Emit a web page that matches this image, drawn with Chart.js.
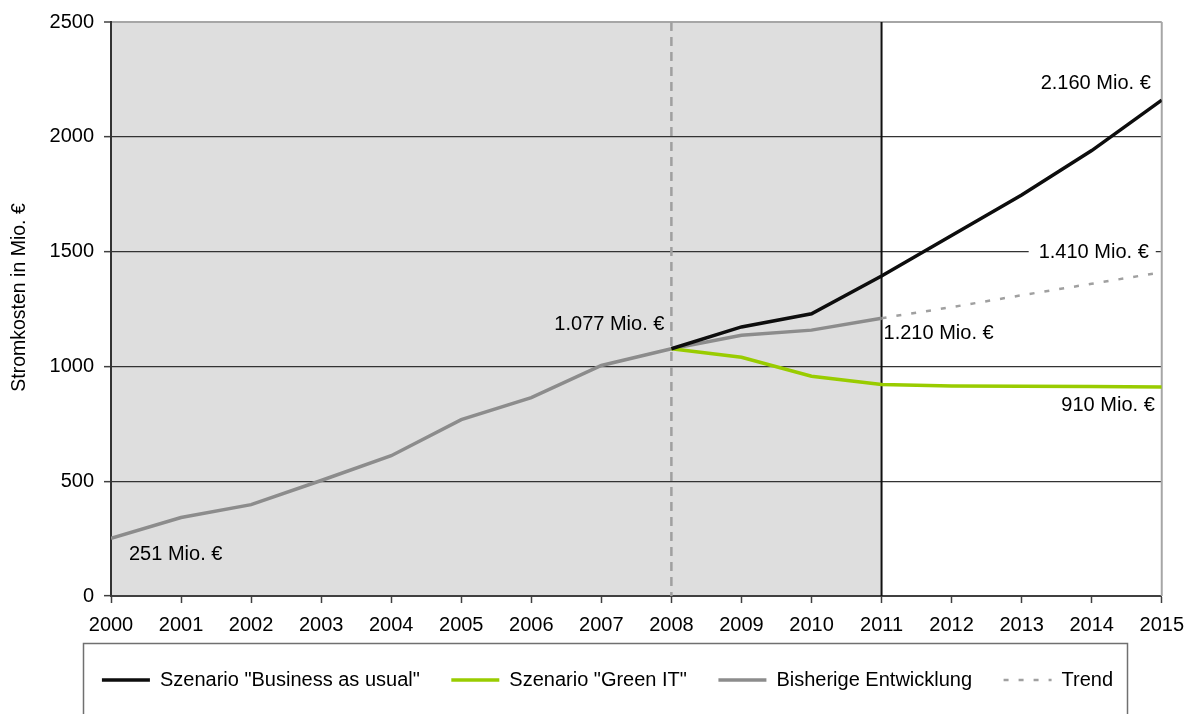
<!DOCTYPE html>
<html>
<head>
<meta charset="utf-8">
<script src="https://cdn.jsdelivr.net/npm/chart.js@4/dist/chart.umd.min.js"></script>
<style>
  html, body { margin: 0; padding: 0; background: #fff; }
  #wrap { width: 1194px; height: 714px; position: relative; }
</style>
</head>
<body>
<div id="wrap"><canvas id="c" width="1194" height="714"></canvas></div>
<script>
// ---- data ----
const histYears = [2000, 2001, 2002, 2003, 2004, 2005, 2006, 2007, 2008, 2009, 2010, 2011];
const histValues = [251, 342, 398, 503, 611, 768, 864, 1004, 1077, 1136, 1158, 1210];
const scenYears = [2008, 2009, 2010, 2011, 2012, 2013, 2014, 2015];
const bauValues = [1077, 1172, 1229, 1394, 1570, 1747, 1940, 2160];
const greenValues = [1077, 1040, 957, 921, 915, 914, 913, 910];
const trendYears = [2011, 2012, 2013, 2014, 2015];
const trendValues = [1210, 1258, 1310, 1360, 1410];
const seriesNames = ['Szenario "Business as usual"', 'Szenario "Green IT"', 'Bisherige Entwicklung', 'Trend'];
const yTitle = 'Stromkosten in Mio. €';
const annotations = [
  { x: 2000, y: 251, text: '251 Mio. €' },
  { x: 2008, y: 1077, text: '1.077 Mio. €' },
  { x: 2015, y: 2160, text: '2.160 Mio. €' },
  { x: 2015, y: 1410, text: '1.410 Mio. €' },
  { x: 2011, y: 1210, text: '1.210 Mio. €' },
  { x: 2015, y: 910, text: '910 Mio. €' }
];
const shadeFrom = 2000, shadeTo = 2011, dashedYear = 2008, solidYear = 2011;

// ---- styling of annotations (offsets, alignment) ----
const annStyle = [
  { dx: 18, dy: 16, align: 'left' },
  { dx: -7, dy: -24, align: 'right' },
  { dx: -11, dy: -17, align: 'right' },
  { dx: -13, dy: -20, align: 'right', box: true },
  { dx: 2, dy: 15, align: 'left' },
  { dx: -7, dy: 18, align: 'right' }
];

const pts = (xs, ys) => xs.map((x, i) => ({ x: x, y: ys[i] }));
const FONT = 'Arial, "Liberation Sans", sans-serif';

const decor = {
  id: 'decor',
  afterLayout(chart) {
    const lg = chart.legend;
    if (lg) { lg.left += 26; lg.right += 26; }
  },
  beforeDraw(chart) {
    const { ctx, chartArea: a, scales: { x } } = chart;
    ctx.save();
    ctx.fillStyle = '#fff';
    ctx.fillRect(0, 0, chart.width, chart.height);
    ctx.fillStyle = '#dedede';
    const x0 = x.getPixelForValue(shadeFrom), x1 = x.getPixelForValue(shadeTo);
    ctx.fillRect(x0, a.top, x1 - x0, a.bottom - a.top);
    ctx.restore();
  },
  beforeDatasetsDraw(chart) {
    const { ctx, chartArea: a, scales: { x } } = chart;
    ctx.save();
    // right border
    ctx.strokeStyle = '#a6a6a6';
    ctx.lineWidth = 2;
    ctx.beginPath();
    ctx.moveTo(a.right, a.top); ctx.lineTo(a.right, a.bottom);
    ctx.stroke();
    // dashed 2008
    const xd = x.getPixelForValue(dashedYear);
    ctx.strokeStyle = '#a0a0a0';
    ctx.lineWidth = 2.5;
    ctx.setLineDash([9, 6]);
    ctx.beginPath();
    ctx.moveTo(xd, a.top); ctx.lineTo(xd, a.bottom);
    ctx.stroke();
    ctx.setLineDash([]);
    // solid 2011
    const xs = x.getPixelForValue(solidYear);
    ctx.strokeStyle = '#111';
    ctx.lineWidth = 2;
    ctx.beginPath();
    ctx.moveTo(xs, a.top); ctx.lineTo(xs, a.bottom);
    ctx.stroke();
    ctx.restore();
  },
  afterDatasetsDraw(chart) {
    const { ctx, chartArea: a, scales: { x, y } } = chart;
    ctx.save();
    ctx.font = '20px ' + FONT;
    ctx.textBaseline = 'middle';
    annotations.forEach((an, i) => {
      const s = annStyle[i];
      const px = x.getPixelForValue(an.x) + s.dx;
      const py = y.getPixelForValue(an.y) + s.dy;
      ctx.textAlign = s.align;
      const w = ctx.measureText(an.text).width;
      if (s.box) {
        ctx.fillStyle = '#fff';
        const left = s.align === 'right' ? px - w : px;
        ctx.fillRect(left - 10, py - 11, w + 17, 22);
      }
      ctx.fillStyle = '#000';
      ctx.fillText(an.text, px, py);
    });
    // y axis title
    ctx.translate(20, (a.top + a.bottom) / 2 - 11.5);
    ctx.rotate(-Math.PI / 2);
    ctx.font = '19.5px ' + FONT;
    ctx.textAlign = 'center';
    ctx.fillStyle = '#000';
    ctx.fillText(yTitle, 0, 0);
    ctx.restore();
  },
  afterDraw(chart) {
    const { ctx } = chart;
    ctx.save();
    ctx.strokeStyle = '#707070';
    ctx.lineWidth = 1.5;
    ctx.strokeRect(83.5, 643.5, 1044, 80);
    ctx.restore();
  }
};

new Chart(document.getElementById('c'), {
  type: 'line',
  data: {
    datasets: [
      { label: seriesNames[0], data: pts(scenYears, bauValues), borderColor: '#0d0d0d', borderWidth: 3.5 },
      { label: seriesNames[1], data: pts(scenYears, greenValues), borderColor: '#99cc00', borderWidth: 3.5 },
      { label: seriesNames[2], data: pts(histYears, histValues), borderColor: '#8c8c8c', borderWidth: 3.5 },
      { label: seriesNames[3], data: pts(trendYears, trendValues), borderColor: '#a0a0a0', borderWidth: 2.5, borderDash: [5, 10] }
    ]
  },
  options: {
    responsive: false,
    animation: false,
    events: [],
    elements: { point: { radius: 0 }, line: { tension: 0 } },
    layout: { padding: { top: 19, right: 31, left: 0, bottom: 14 } },
    plugins: {
      tooltip: { enabled: false },
      legend: {
        position: 'bottom',
        labels: {
          usePointStyle: true,
          pointStyle: 'line',
          pointStyleWidth: 48,
          padding: 31.5,
          color: '#000',
          font: { family: FONT, size: 20 },
          generateLabels(chart) {
            const items = Chart.defaults.plugins.legend.labels.generateLabels(chart);
            return items.map(it => {
              const ds = chart.data.datasets[it.datasetIndex];
              it.lineDash = ds.borderDash || [];
              it.lineWidth = ds.borderWidth;
              it.strokeStyle = ds.borderColor;
              it.pointStyle = 'line';
              return it;
            });
          }
        }
      }
    },
    scales: {
      x: {
        type: 'linear',
        min: 2000, max: 2015,
        afterFit(s) { s.height = 42.5; },
        ticks: { stepSize: 1, color: '#000', font: { family: FONT, size: 20 }, padding: 10, maxRotation: 0, autoSkip: false, callback: v => String(v) },
        grid: { drawOnChartArea: false, drawTicks: true, tickLength: 7, tickColor: '#404040', tickWidth: 1.5 },
        border: { display: true, color: '#404040', width: 2 }
      },
      y: {
        min: 0, max: 2500,
        afterFit(s) { s.width = 111; },
        ticks: { stepSize: 500, color: '#000', font: { family: FONT, size: 20 }, padding: 10, callback: v => String(v) },
        grid: {
          color: ctx => ctx.tick && ctx.tick.value === 2500 ? '#a6a6a6' : (ctx.tick && ctx.tick.value === 0 ? 'rgba(0,0,0,0)' : '#333'),
          lineWidth: ctx => ctx.tick && ctx.tick.value === 2500 ? 2 : 1.3,
          drawTicks: true, tickLength: 7, tickColor: '#404040', tickWidth: 1.5
        },
        border: { display: true, color: '#333', width: 2 },
        title: { display: false, text: yTitle }
      }
    }
  },
  plugins: [decor]
});
</script>
</body>
</html>
